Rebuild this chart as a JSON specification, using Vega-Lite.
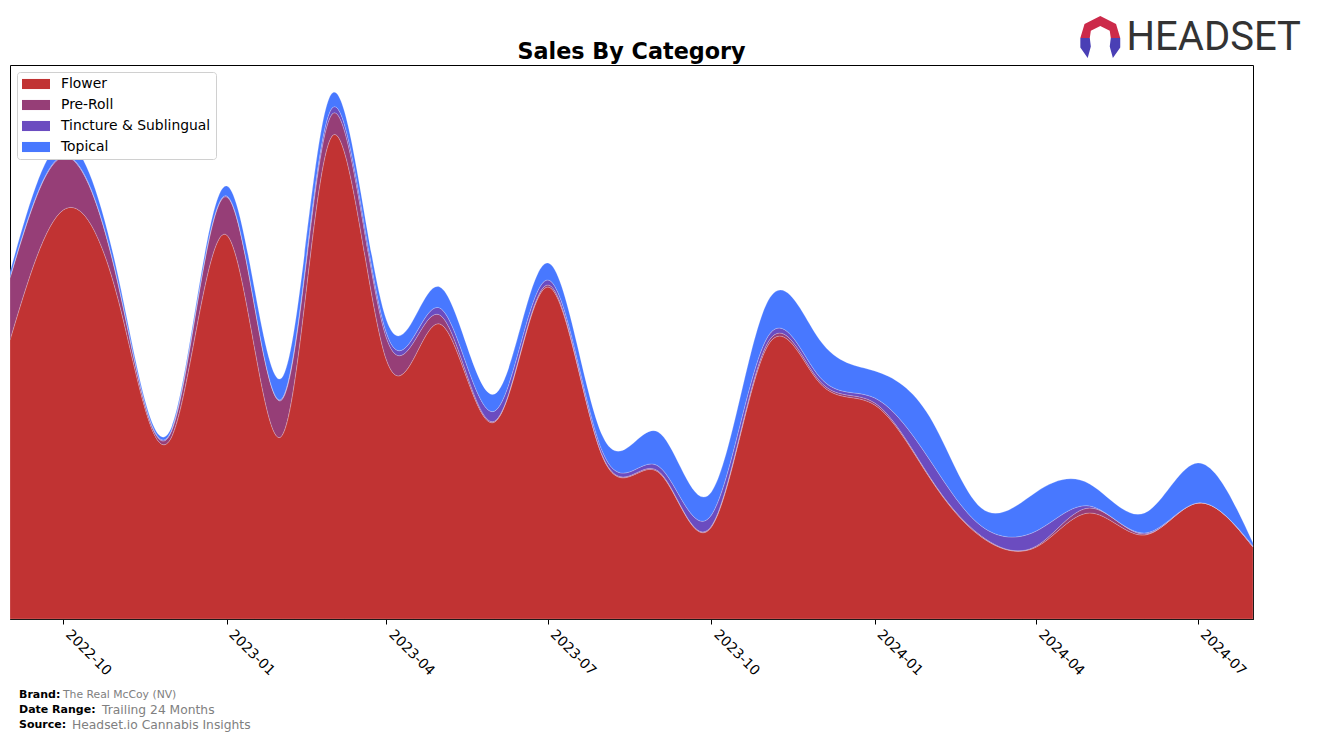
{
  "$schema": "https://vega.github.io/schema/vega-lite/v6.json",
  "padding": {"left": 8, "top": 15, "right": 10, "bottom": 0},
  "background": "white",
  "config": {
    "font": "DejaVu Sans",
    "view": {"stroke": "black", "strokeWidth": 1}
  },
  "datasets": {
    "sales": [
      {"month": "2022-09-01", "category": "Flower", "value": 279},
      {"month": "2022-09-01", "category": "Pre-Roll", "value": 62},
      {"month": "2022-09-01", "category": "Tincture & Sublingual", "value": 1},
      {"month": "2022-09-01", "category": "Topical", "value": 5},
      {"month": "2022-10-01", "category": "Flower", "value": 409},
      {"month": "2022-10-01", "category": "Pre-Roll", "value": 53},
      {"month": "2022-10-01", "category": "Tincture & Sublingual", "value": 1},
      {"month": "2022-10-01", "category": "Topical", "value": 14},
      {"month": "2022-11-01", "category": "Flower", "value": 319},
      {"month": "2022-11-01", "category": "Pre-Roll", "value": 15},
      {"month": "2022-11-01", "category": "Tincture & Sublingual", "value": 1},
      {"month": "2022-11-01", "category": "Topical", "value": 7},
      {"month": "2022-12-01", "category": "Flower", "value": 182},
      {"month": "2022-12-01", "category": "Pre-Roll", "value": 6},
      {"month": "2022-12-01", "category": "Tincture & Sublingual", "value": 1},
      {"month": "2022-12-01", "category": "Topical", "value": 3},
      {"month": "2023-01-01", "category": "Flower", "value": 384},
      {"month": "2023-01-01", "category": "Pre-Roll", "value": 38},
      {"month": "2023-01-01", "category": "Tincture & Sublingual", "value": 1},
      {"month": "2023-01-01", "category": "Topical", "value": 10},
      {"month": "2023-02-01", "category": "Flower", "value": 183},
      {"month": "2023-02-01", "category": "Pre-Roll", "value": 36},
      {"month": "2023-02-01", "category": "Tincture & Sublingual", "value": 1},
      {"month": "2023-02-01", "category": "Topical", "value": 21},
      {"month": "2023-03-01", "category": "Flower", "value": 482},
      {"month": "2023-03-01", "category": "Pre-Roll", "value": 22},
      {"month": "2023-03-01", "category": "Tincture & Sublingual", "value": 6},
      {"month": "2023-03-01", "category": "Topical", "value": 15},
      {"month": "2023-04-01", "category": "Flower", "value": 259},
      {"month": "2023-04-01", "category": "Pre-Roll", "value": 22},
      {"month": "2023-04-01", "category": "Tincture & Sublingual", "value": 5},
      {"month": "2023-04-01", "category": "Topical", "value": 13},
      {"month": "2023-05-01", "category": "Flower", "value": 295},
      {"month": "2023-05-01", "category": "Pre-Roll", "value": 9},
      {"month": "2023-05-01", "category": "Tincture & Sublingual", "value": 7},
      {"month": "2023-05-01", "category": "Topical", "value": 21},
      {"month": "2023-06-01", "category": "Flower", "value": 197},
      {"month": "2023-06-01", "category": "Pre-Roll", "value": 1},
      {"month": "2023-06-01", "category": "Tincture & Sublingual", "value": 10},
      {"month": "2023-06-01", "category": "Topical", "value": 17},
      {"month": "2023-07-01", "category": "Flower", "value": 332},
      {"month": "2023-07-01", "category": "Pre-Roll", "value": 2},
      {"month": "2023-07-01", "category": "Tincture & Sublingual", "value": 5},
      {"month": "2023-07-01", "category": "Topical", "value": 17},
      {"month": "2023-08-01", "category": "Flower", "value": 161},
      {"month": "2023-08-01", "category": "Pre-Roll", "value": 1},
      {"month": "2023-08-01", "category": "Tincture & Sublingual", "value": 4},
      {"month": "2023-08-01", "category": "Topical", "value": 16},
      {"month": "2023-09-01", "category": "Flower", "value": 147},
      {"month": "2023-09-01", "category": "Pre-Roll", "value": 1},
      {"month": "2023-09-01", "category": "Tincture & Sublingual", "value": 5},
      {"month": "2023-09-01", "category": "Topical", "value": 34},
      {"month": "2023-10-01", "category": "Flower", "value": 92},
      {"month": "2023-10-01", "category": "Pre-Roll", "value": 1},
      {"month": "2023-10-01", "category": "Tincture & Sublingual", "value": 11},
      {"month": "2023-10-01", "category": "Topical", "value": 23},
      {"month": "2023-11-01", "category": "Flower", "value": 271},
      {"month": "2023-11-01", "category": "Pre-Roll", "value": 3},
      {"month": "2023-11-01", "category": "Tincture & Sublingual", "value": 6},
      {"month": "2023-11-01", "category": "Topical", "value": 35},
      {"month": "2023-12-01", "category": "Flower", "value": 236},
      {"month": "2023-12-01", "category": "Pre-Roll", "value": 2},
      {"month": "2023-12-01", "category": "Tincture & Sublingual", "value": 4},
      {"month": "2023-12-01", "category": "Topical", "value": 37},
      {"month": "2024-01-01", "category": "Flower", "value": 214},
      {"month": "2024-01-01", "category": "Pre-Roll", "value": 2},
      {"month": "2024-01-01", "category": "Tincture & Sublingual", "value": 5},
      {"month": "2024-01-01", "category": "Topical", "value": 27},
      {"month": "2024-02-01", "category": "Flower", "value": 141},
      {"month": "2024-02-01", "category": "Pre-Roll", "value": 1},
      {"month": "2024-02-01", "category": "Tincture & Sublingual", "value": 17},
      {"month": "2024-02-01", "category": "Topical", "value": 43},
      {"month": "2024-03-01", "category": "Flower", "value": 82},
      {"month": "2024-03-01", "category": "Pre-Roll", "value": 1},
      {"month": "2024-03-01", "category": "Tincture & Sublingual", "value": 10},
      {"month": "2024-03-01", "category": "Topical", "value": 18},
      {"month": "2024-04-01", "category": "Flower", "value": 72},
      {"month": "2024-04-01", "category": "Pre-Roll", "value": 1},
      {"month": "2024-04-01", "category": "Tincture & Sublingual", "value": 15},
      {"month": "2024-04-01", "category": "Topical", "value": 39},
      {"month": "2024-05-01", "category": "Flower", "value": 106},
      {"month": "2024-05-01", "category": "Pre-Roll", "value": 5},
      {"month": "2024-05-01", "category": "Tincture & Sublingual", "value": 2},
      {"month": "2024-05-01", "category": "Topical", "value": 22},
      {"month": "2024-06-01", "category": "Flower", "value": 84},
      {"month": "2024-06-01", "category": "Pre-Roll", "value": 1},
      {"month": "2024-06-01", "category": "Tincture & Sublingual", "value": 1},
      {"month": "2024-06-01", "category": "Topical", "value": 20},
      {"month": "2024-07-01", "category": "Flower", "value": 116},
      {"month": "2024-07-01", "category": "Pre-Roll", "value": 0},
      {"month": "2024-07-01", "category": "Tincture & Sublingual", "value": 0},
      {"month": "2024-07-01", "category": "Topical", "value": 40},
      {"month": "2024-08-01", "category": "Flower", "value": 72},
      {"month": "2024-08-01", "category": "Pre-Roll", "value": 0},
      {"month": "2024-08-01", "category": "Tincture & Sublingual", "value": 1},
      {"month": "2024-08-01", "category": "Topical", "value": 3}
    ]
  },
  "spacing": 8,
  "vconcat": [
    {
      "width": 1243,
      "height": 554,
      "title": {"text": "Sales By Category", "font": "DejaVu Sans", "fontSize": 22.3, "fontWeight": "bold", "color": "black", "offset": 5, "dy": 52, "anchor": "middle"},
      "layer": [
        {
          "data": {"name": "sales"},
          "mark": {"type": "area", "interpolate": "natural", "stroke": "white", "strokeWidth": 0.6, "strokeOpacity": 0.35},
          "encoding": {
            "x": {
              "field": "month", "type": "temporal",
              "scale": {"type": "utc", "domain": [{"year": 2022, "month": 9, "date": 1, "utc": true}, {"year": 2024, "month": 8, "date": 1, "utc": true}]},
              "axis": {
                "title": null,
                "labelExpr": "utcFormat(datum.value, '%Y-%m')",
                "values": [
                  {"year": 2022, "month": 10, "date": 1, "utc": true},
                  {"year": 2023, "month": 1, "date": 1, "utc": true},
                  {"year": 2023, "month": 4, "date": 1, "utc": true},
                  {"year": 2023, "month": 7, "date": 1, "utc": true},
                  {"year": 2023, "month": 10, "date": 1, "utc": true},
                  {"year": 2024, "month": 1, "date": 1, "utc": true},
                  {"year": 2024, "month": 4, "date": 1, "utc": true},
                  {"year": 2024, "month": 7, "date": 1, "utc": true}
                ],
                "grid": false, "domainColor": "black", "domainWidth": 1, "tickColor": "black", "tickSize": 5,
                "labelAngle": 45, "labelAlign": "left", "labelBaseline": "top", "labelPadding": 3, "labelOffset": 9,
                "labelFont": "DejaVu Sans", "labelFontSize": 13.9, "labelColor": "black", "labelOverlap": false, "labelFlush": false
              }
            },
            "y": {
              "field": "value", "type": "quantitative", "stack": "zero",
              "scale": {"domain": [0, 554], "nice": false, "zero": true},
              "axis": null
            },
            "color": {
              "field": "category", "type": "nominal",
              "scale": {"domain": ["Flower", "Pre-Roll", "Tincture & Sublingual", "Topical"], "range": ["#C13333", "#963E77", "#6B4CC0", "#4878FF"]},
              "legend": {
                "title": null, "orient": "top-left", "offset": 7, "padding": 5,
                "strokeColor": "#d0d0d0", "cornerRadius": 3, "fillColor": "white",
                "symbolType": "M-2,-0.72H2V0.72H-2Z", "symbolSize": 196, "symbolStrokeWidth": 0, "symbolOpacity": 1, "symbolOffset": 7,
                "labelFont": "DejaVu Sans", "labelFontSize": 13.9, "labelColor": "black", "rowPadding": 7, "labelOffset": 18
              }
            },
            "order": {"field": "category", "sort": "ascending"}
          }
        },
        {
          "data": {"values": [{"brand": "HEADSET"}]},
          "mark": {"type": "text", "align": "right", "baseline": "middle", "font": "Roboto", "fontSize": 40, "color": "#333333"},
          "encoding": {
            "x": {"datum": {"year": 2024, "month": 8, "date": 28, "utc": true}, "type": "temporal"},
            "y": {"datum": 581, "type": "quantitative"},
            "text": {"field": "brand"}
          }
        },
        {
          "data": {"values": [{"part": "top"}]},
          "mark": {"type": "point", "filled": true, "opacity": 1, "size": 1764, "color": "#CC2A4A", "strokeWidth": 0,
            "shape": "M-0.95,0.05L-0.75,-0.62L0,-1L0.75,-0.62L0.95,0.05L0.5,0.05L0.45,-0.3L0,-0.52L-0.45,-0.3L-0.5,0.05Z"},
          "encoding": {
            "x": {"datum": {"year": 2024, "month": 5, "date": 7, "utc": true}, "type": "temporal"},
            "y": {"datum": 582, "type": "quantitative"}
          }
        },
        {
          "data": {"values": [{"part": "legs"}]},
          "mark": {"type": "point", "filled": true, "opacity": 1, "size": 1764, "color": "#4A3FB5", "strokeWidth": 0,
            "shape": "M-0.95,0.05L-0.5,0.05L-0.45,0.45L-0.6,1L-0.95,0.5ZM0.95,0.05L0.5,0.05L0.45,0.45L0.6,1L0.95,0.5Z"},
          "encoding": {
            "x": {"datum": {"year": 2024, "month": 5, "date": 7, "utc": true}, "type": "temporal"},
            "y": {"datum": 582, "type": "quantitative"}
          }
        }
      ]
    },
    {
      "width": 300,
      "height": 45,
      "view": {"stroke": null},
      "data": {"values": [
        {"line": "1", "label": "Brand:", "value": "The Real McCoy (NV)"},
        {"line": "2", "label": "Date Range:", "value": "Trailing 24 Months"},
        {"line": "3", "label": "Source:", "value": "Headset.io Cannabis Insights"}
      ]},
      "encoding": {
        "x": {"datum": 0, "type": "quantitative", "scale": {"domain": [0, 300], "nice": false}, "axis": null},
        "y": {"field": "line", "type": "ordinal", "scale": {"paddingInner": 0, "paddingOuter": 0}, "axis": null}
      },
      "layer": [
        {
          "mark": {"type": "text", "align": "left", "baseline": "middle", "dx": 9, "font": "DejaVu Sans", "fontWeight": "bold", "fontSize": 11, "color": "black"},
          "encoding": {"text": {"field": "label"}}
        },
        {
          "transform": [{"filter": "datum.line == '1'"}],
          "mark": {"type": "text", "align": "left", "baseline": "middle", "dx": 53, "font": "DejaVu Sans", "fontSize": 10.8, "color": "#808080"},
          "encoding": {"text": {"field": "value"}}
        },
        {
          "transform": [{"filter": "datum.line == '2'"}],
          "mark": {"type": "text", "align": "left", "baseline": "middle", "dx": 92, "font": "DejaVu Sans", "fontSize": 12.3, "color": "#808080"},
          "encoding": {"text": {"field": "value"}}
        },
        {
          "transform": [{"filter": "datum.line == '3'"}],
          "mark": {"type": "text", "align": "left", "baseline": "middle", "dx": 62, "font": "DejaVu Sans", "fontSize": 12.3, "color": "#808080"},
          "encoding": {"text": {"field": "value"}}
        }
      ]
    }
  ]
}
